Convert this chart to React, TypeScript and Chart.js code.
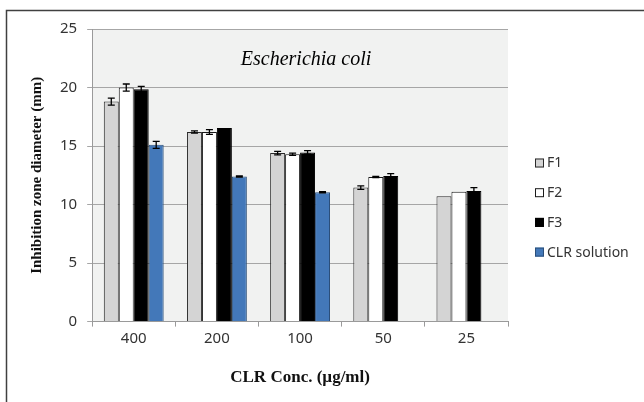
import React, { useEffect, useRef } from "react";
import { Chart, registerables } from "chart.js";

Chart.register(...registerables);

const categories = ["400", "200", "100", "50", "25"];
const seriesNames = ["F1", "F2", "F3", "CLR solution"];
const f1Values = [18.8, 16.2, 14.4, 11.45, 10.7];
const f2Values = [20.0, 16.2, 14.3, 12.35, 11.1];
const f3Values = [19.85, 16.55, 14.45, 12.45, 11.15];
const clrValues = [15.1, 12.4, 11.05, null, null];
const f1Errors = [0.3, 0.1, 0.15, 0.15, 0];
const f2Errors = [0.3, 0.2, 0.1, 0.05, 0];
const f3Errors = [0.25, 0, 0.15, 0.2, 0.3];
const clrErrors = [0.3, 0.05, 0.05, 0, 0];
const yTicks = [0, 5, 10, 15, 20, 25];
const chartTitle = "Escherichia coli";
const xTitle = "CLR Conc. (µg/ml)";
const yTitle = "Inhibition zone diameter (mm)";

const fills = ["#d4d4d4", "#ffffff", "#000000", "#4378b9"];
const borders = ["#2a2a2a", "#1a1a1a", "#000000", "#2b4f7a"];

const errorSets = [f1Errors, f2Errors, f3Errors, clrErrors];

const framePlugin = {
  id: "frame",
  beforeDraw(chart: any) {
    const { ctx, chartArea, width, height } = chart;
    ctx.save();
    ctx.fillStyle = "#ffffff";
    ctx.fillRect(0, 0, width, height);
    ctx.fillStyle = "#f1f2f1";
    ctx.fillRect(chartArea.left, chartArea.top, chartArea.right - chartArea.left, chartArea.bottom - chartArea.top);
    ctx.strokeStyle = "#404040";
    ctx.lineWidth = 1.5;
    ctx.beginPath();
    ctx.moveTo(6.5, height);
    ctx.lineTo(6.5, 10.5);
    ctx.lineTo(width, 10.5);
    ctx.stroke();
    ctx.restore();
  },
  afterDraw(chart: any) {
    const { ctx, chartArea } = chart;
    ctx.save();
    ctx.fillStyle = "#000000";
    ctx.font = "italic 20px 'Liberation Serif', 'DejaVu Serif', serif";
    ctx.textAlign = "center";
    ctx.textBaseline = "middle";
    ctx.fillText(chartTitle, (chartArea.left + chartArea.right) / 2 + 6, chartArea.top + 31);

    // legend, built from the datasets
    const boxX = chartArea.right + 27;
    const firstY = 163;
    const step = 29.7;
    ctx.font = "14px 'Noto Sans', sans-serif";
    ctx.textAlign = "left";
    chart.data.datasets.forEach((ds: any, i: number) => {
      const cy = firstY + i * step;
      ctx.fillStyle = ds.backgroundColor;
      ctx.fillRect(boxX, cy - 4.5, 9, 9);
      ctx.strokeStyle = ds.borderColor;
      ctx.lineWidth = 1;
      ctx.strokeRect(boxX + 0.5, cy - 4, 8, 8);
      ctx.fillStyle = "#333333";
      ctx.fillText(ds.label, boxX + 12, cy + 0.5);
    });
    ctx.restore();
  },
};

const errorBarPlugin = {
  id: "errorBars",
  afterDatasetsDraw(chart: any) {
    const { ctx } = chart;
    const yScale = chart.scales.y;
    ctx.save();
    ctx.strokeStyle = "#000000";
    ctx.lineWidth = 1.3;
    chart.data.datasets.forEach((ds: any, di: number) => {
      const meta = chart.getDatasetMeta(di);
      const errs = errorSets[di];
      meta.data.forEach((bar: any, i: number) => {
        const v = ds.data[i];
        const e = errs[i];
        if (v == null || !e) return;
        const x = bar.x;
        const yTop = yScale.getPixelForValue(v + e);
        const yBot = yScale.getPixelForValue(v - e);
        const cap = 3.5;
        ctx.beginPath();
        ctx.moveTo(x, yTop);
        ctx.lineTo(x, yBot);
        ctx.moveTo(x - cap, yTop);
        ctx.lineTo(x + cap, yTop);
        ctx.moveTo(x - cap, yBot);
        ctx.lineTo(x + cap, yBot);
        ctx.stroke();
      });
    });
    ctx.restore();
  },
};

export default function App() {
  const ref = useRef<HTMLCanvasElement | null>(null);
  useEffect(() => {
    if (!ref.current) return;
    const values = [f1Values, f2Values, f3Values, clrValues];
    const chart = new Chart(ref.current, {
      type: "bar",
      data: {
        labels: categories,
        datasets: seriesNames.map((name, i) => ({
          label: name,
          data: values[i] as any,
          backgroundColor: fills[i],
          borderColor: borders[i],
          borderWidth: 1,
          barPercentage: 1.0,
          categoryPercentage: 0.72,
        })),
      },
      options: {
        animation: false,
        responsive: false,
        maintainAspectRatio: false,
        layout: { padding: { top: 29, left: 28, right: 136, bottom: 14 } },
        plugins: {
          legend: { display: false },
          tooltip: { enabled: false },
          title: { display: false },
        },
        scales: {
          x: {
            offset: true,
            grid: {
              offset: true,
              drawOnChartArea: false,
              drawTicks: true,
              tickLength: 5,
              color: "#9a9a9a",
            },
            border: { color: "#9a9a9a" },
            ticks: {
              color: "#333333",
              padding: 3,
              font: { family: "'Noto Sans', sans-serif", size: 15 },
            },
            title: {
              display: true,
              text: xTitle,
              color: "#111111",
              padding: { top: 17, bottom: 0 },
              font: { family: "'Liberation Serif', serif", size: 17, weight: "bold" },
            },
          },
          y: {
            min: 0,
            max: 25,
            afterBuildTicks: (axis: any) => {
              axis.ticks = yTicks.map((v) => ({ value: v }));
            },
            grid: {
              color: "#a6a6a6",
              drawTicks: true,
              tickLength: 5,
            },
            border: { color: "#9a9a9a" },
            ticks: {
              color: "#333333",
              padding: 10,
              font: { family: "'Noto Sans', sans-serif", size: 15 },
            },
            title: {
              display: true,
              text: yTitle,
              color: "#111111",
              padding: { top: 0, bottom: 4 },
              font: { family: "'Liberation Serif', serif", size: 15, weight: "bold" },
            },
          },
        },
      },
      plugins: [framePlugin, errorBarPlugin],
    });
    return () => chart.destroy();
  }, []);
  return (
    <div style={{ position: "fixed", left: 0, top: 0, width: 644, height: 402 }}>
      <canvas ref={ref} width={644} height={402} style={{ width: 644, height: 402 }} />
    </div>
  );
}
